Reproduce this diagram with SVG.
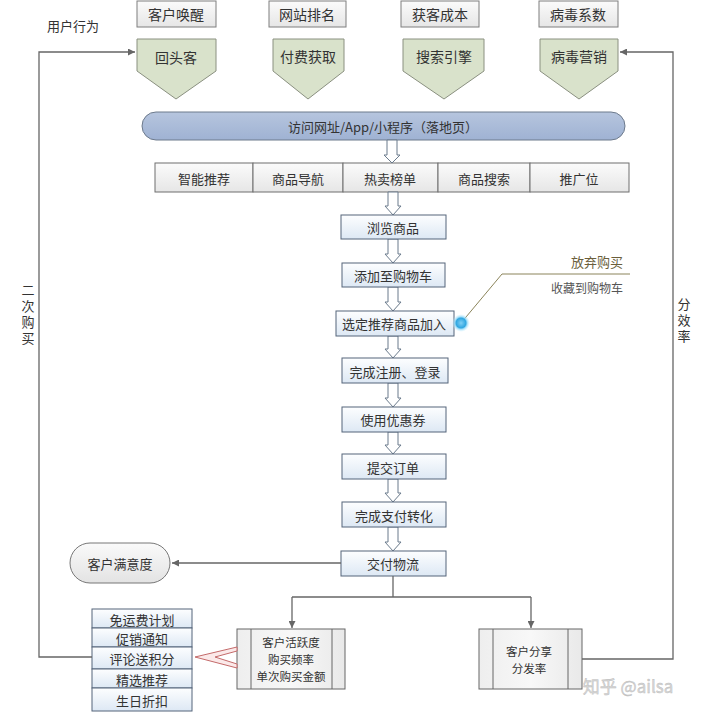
<svg xmlns="http://www.w3.org/2000/svg" width="702" height="713" viewBox="0 0 702 713">
<defs>
<style>
text{font-family:"Noto Sans CJK SC","Liberation Sans",sans-serif;fill:#333;text-anchor:middle;dominant-baseline:central}
.t14{font-size:14px}
.t13{font-size:13px}
.t12{font-size:12px}
.t115{font-size:11.5px}
.vert{writing-mode:vertical-rl;letter-spacing:3px}
.topbox{fill:url(#gGray);stroke:#7f7f7f;stroke-width:1}
.pent{fill:#d9e2cb;stroke:#8a9080;stroke-width:1}
.mbox{fill:url(#gBlue);stroke:#55657a;stroke-width:1}
.harrow{fill:#fff;stroke:#6b7b8c;stroke-width:1}
.conn{fill:none;stroke:#666;stroke-width:1.3}
.tab{fill:url(#gGray);stroke:#6f6f6f;stroke-width:1}
.proc{fill:url(#gGray2);stroke:#666;stroke-width:1}
</style>
<linearGradient id="gGray" x1="0" y1="0" x2="0" y2="1"><stop offset="0" stop-color="#fbfbfb"/><stop offset="1" stop-color="#e6e6e6"/></linearGradient>
<linearGradient id="gGray2" x1="0" y1="0" x2="1" y2="0"><stop offset="0" stop-color="#eeeeee"/><stop offset="0.5" stop-color="#f8f8f8"/><stop offset="1" stop-color="#e9e9e9"/></linearGradient>
<linearGradient id="gBlue" x1="0" y1="0" x2="0" y2="1"><stop offset="0" stop-color="#fdfeff"/><stop offset="1" stop-color="#dde8f4"/></linearGradient>
<linearGradient id="gBanner" x1="0" y1="0" x2="0" y2="1"><stop offset="0" stop-color="#b6c5de"/><stop offset="1" stop-color="#9fb2d3"/></linearGradient>
<linearGradient id="gPill" x1="0" y1="0" x2="0" y2="1"><stop offset="0" stop-color="#fafafa"/><stop offset="1" stop-color="#e3e3e3"/></linearGradient>
<radialGradient id="gDot"><stop offset="0" stop-color="#7fd0f5"/><stop offset="0.55" stop-color="#2fa6e0"/><stop offset="0.7" stop-color="#8fd8f8" stop-opacity="0.8"/><stop offset="1" stop-color="#c8efff" stop-opacity="0"/></radialGradient>
<marker id="arr" viewBox="0 0 10 10" refX="10" refY="5" markerWidth="7" markerHeight="7" orient="auto" markerUnits="userSpaceOnUse"><path d="M0,0 L10,5 L0,10 z" fill="#666"/></marker>
</defs>
<rect width="702" height="713" fill="#fff"/>

<text class="t13" x="73" y="25">用户行为</text>

<g id="top-metrics">
<g id="m1"><rect class="topbox" x="137" y="1" width="79" height="26"/><text class="t14" x="176" y="14">客户唤醒</text></g>
<g id="m2"><rect class="topbox" x="269" y="1" width="77" height="26"/><text class="t14" x="307" y="14">网站排名</text></g>
<g id="m3"><rect class="topbox" x="401" y="1" width="78" height="26"/><text class="t14" x="440" y="14">获客成本</text></g>
<g id="m4"><rect class="topbox" x="539" y="1" width="79" height="26"/><text class="t14" x="578" y="14">病毒系数</text></g>
</g>

<g id="channels">
<g id="c1"><polygon class="pent" points="137,39 216,39 216,71 176,99 137,71"/><text class="t14" x="176" y="57">回头客</text></g>
<g id="c2"><polygon class="pent" points="273,39 344,39 344,71 308,99 273,71"/><text class="t14" x="308" y="56">付费获取</text></g>
<g id="c3"><polygon class="pent" points="403,39 484,39 484,71 444,99 403,71"/><text class="t14" x="444" y="56">搜索引擎</text></g>
<g id="c4"><polygon class="pent" points="540,39 618,39 618,71 579,99 540,71"/><text class="t14" x="579" y="56">病毒营销</text></g>
</g>

<g id="landing"><rect x="142" y="112" width="483" height="28" rx="14" fill="url(#gBanner)" stroke="#6d7a8c" stroke-width="1"/><text class="t13" x="383" y="126">访问网址/App/小程序（落地页）</text></g>

<g id="tabs">
<rect class="tab" x="155" y="163" width="98" height="29"/><text class="t13" x="204" y="178">智能推荐</text>
<rect class="tab" x="253" y="163" width="90" height="29"/><text class="t13" x="298" y="178">商品导航</text>
<rect class="tab" x="343" y="163" width="95" height="29"/><text class="t13" x="390" y="178">热卖榜单</text>
<rect class="tab" x="438" y="163" width="92" height="29"/><text class="t13" x="484" y="178">商品搜索</text>
<rect class="tab" x="530" y="163" width="99" height="29"/><text class="t13" x="579" y="178">推广位</text>
</g>

<g id="flow-arrows">
<polygon class="harrow" points="387,140 397,140 397,155 400,155 392,163 384,155 387,155"/>
<polygon class="harrow" points="388,192 398,192 398,206 401,206 393,215 385,206 388,206"/>
<polygon class="harrow" points="388,239 398,239 398,254 401,254 393,263 385,254 388,254"/>
<polygon class="harrow" points="388,287 398,287 398,302 401,302 393,311 385,302 388,302"/>
<polygon class="harrow" points="388,336 398,336 398,349 401,349 393,358 385,349 388,349"/>
<polygon class="harrow" points="388,383 398,383 398,398 401,398 393,407 385,398 388,398"/>
<polygon class="harrow" points="388,432 398,432 398,445 401,445 393,454 385,445 388,445"/>
<polygon class="harrow" points="388,479 398,479 398,493 401,493 393,502 385,493 388,493"/>
<polygon class="harrow" points="388,527 398,527 398,542 401,542 393,551 385,542 388,542"/>
</g>

<g id="browse"><rect class="mbox" x="341" y="215" width="105" height="24"/><text class="t13" x="393" y="227">浏览商品</text></g>
<g id="addcart"><rect class="mbox" x="342" y="263" width="103" height="24"/><text class="t13" x="393" y="275">添加至购物车</text></g>
<g id="select"><rect class="mbox" x="336" y="311" width="118" height="25"/><text class="t13" x="394" y="323">选定推荐商品加入</text></g>
<g id="register"><rect class="mbox" x="342" y="358" width="106" height="25"/><text class="t13" x="395" y="371">完成注册、登录</text></g>
<g id="coupon"><rect class="mbox" x="342" y="407" width="104" height="25"/><text class="t13" x="393" y="419">使用优惠券</text></g>
<g id="order"><rect class="mbox" x="342" y="454" width="104" height="25"/><text class="t13" x="393" y="467">提交订单</text></g>
<g id="pay"><rect class="mbox" x="342" y="502" width="104" height="25"/><text class="t13" x="394" y="515">完成支付转化</text></g>
<g id="deliver"><rect class="mbox" x="341" y="551" width="105" height="25"/><text class="t13" x="393" y="563">交付物流</text></g>

<g id="callout">
<polyline points="461,323 502,274 630,274" fill="none" stroke="#8b845a" stroke-width="1"/>
<circle cx="461" cy="323" r="9" fill="url(#gDot)"/>
<text class="t13" x="623" y="261" style="text-anchor:end;fill:#6b5f3c">放弃购买</text>
<text class="t12" x="623" y="287" style="text-anchor:end;fill:#555">收藏到购物车</text>
</g>

<g id="satisfaction"><rect x="70" y="543" width="100" height="40" rx="20" fill="url(#gPill)" stroke="#777" stroke-width="1"/><text class="t13" x="120" y="563">客户满意度</text></g>

<g id="activity">
<rect class="proc" x="237" y="629" width="108" height="60"/>
<line x1="251" y1="629" x2="251" y2="689" stroke="#666"/>
<line x1="332" y1="629" x2="332" y2="689" stroke="#666"/>
<text class="t115" x="291" y="642">客户活跃度</text>
<text class="t115" x="291" y="659">购买频率</text>
<text class="t115" x="291" y="676">单次购买金额</text>
</g>

<g id="share">
<rect class="proc" x="479" y="629" width="103" height="60"/>
<line x1="493" y1="629" x2="493" y2="689" stroke="#666"/>
<line x1="568" y1="629" x2="568" y2="689" stroke="#666"/>
<text class="t115" x="529" y="651">客户分享</text>
<text class="t115" x="529" y="668">分发率</text>
</g>

<g id="retention">
<rect class="mbox" x="92" y="609" width="100" height="19"/><text class="t13" x="142" y="619">免运费计划</text>
<rect class="mbox" x="92" y="628" width="100" height="19"/><text class="t13" x="142" y="638">促销通知</text>
<rect class="mbox" x="92" y="647" width="100" height="22"/><text class="t13" x="142" y="658">评论送积分</text>
<rect class="mbox" x="92" y="669" width="100" height="19"/><text class="t13" x="142" y="679">精选推荐</text>
<rect class="mbox" x="92" y="688" width="100" height="23"/><text class="t13" x="142" y="700">生日折扣</text>
</g>

<g id="chevron"><polygon points="237,647 195,657 237,668 237,664 215,657 237,651" fill="#fbe9e9" stroke="#c46a6a" stroke-width="1"/></g>

<g id="connectors">
<polyline class="conn" points="92,657 39,657 39,52 135,52" marker-end="url(#arr)"/>
<polyline class="conn" points="582,659 673,659 673,52 620,52" marker-end="url(#arr)"/>
<line class="conn" x1="341" y1="563" x2="172" y2="563" marker-end="url(#arr)"/>
<line class="conn" x1="393" y1="576" x2="393" y2="597"/>
<polyline class="conn" points="292,597 531,597"/>
<line class="conn" x1="292" y1="597" x2="292" y2="628" marker-end="url(#arr)"/>
<line class="conn" x1="531" y1="597" x2="531" y2="628" marker-end="url(#arr)"/>
</g>

<g id="loop-labels">
<text class="t13 vert" x="28" y="316">二次购买</text>
<text class="t13 vert" x="684" y="322">分效率</text>
</g>

<text x="628" y="685" style="font-size:17px;fill:#d8d8d8;stroke:#bbb;stroke-width:0.4">知乎 @ailsa</text>
</svg>
